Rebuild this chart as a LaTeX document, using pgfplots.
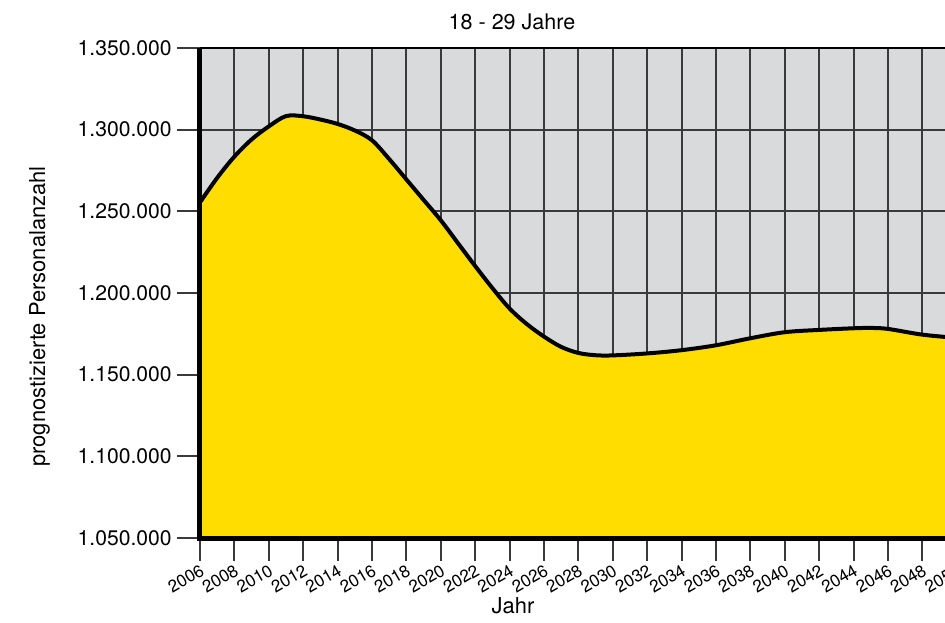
\documentclass[border=0pt]{standalone}
\usepackage{fontspec}
\setmainfont{TeX Gyre Heros}
\usepackage{pgfplots}
\pgfplotsset{compat=1.18}
\definecolor{bg}{HTML}{D9DADC}
\definecolor{fillyel}{HTML}{FFDD00}
\definecolor{gridc}{HTML}{3A3A3A}
\pgfplotstableread{
x y
2006 1255500
2007 1270500
2008 1283500
2009 1294000
2010 1302000
2011 1308300
2012 1308200
2013 1306200
2014 1303500
2015 1299500
2016 1293500
2017 1282000
2018 1269500
2019 1257000
2020 1244500
2021 1230500
2022 1216500
2023 1203000
2024 1190500
2025 1181000
2026 1173300
2027 1167000
2028 1163300
2029 1161900
2030 1161800
2032 1163000
2034 1165000
2036 1168000
2038 1172300
2040 1176000
2042 1177400
2044 1178400
2045 1178600
2046 1178000
2048 1174500
2050 1172500
}\data
\begin{document}
\begin{tikzpicture}
\begin{axis}[name=ax, scale only axis, width=378.4bp, height=245bp,
  xmin=2006, xmax=2050, ymin=1050000, ymax=1350000,
  clip=false, scaled y ticks=false,
  axis background/.style={fill=bg},
  axis line style={draw=none},
  xtick={2006,2008,...,2050},
  xticklabels={2006,2008,2010,2012,2014,2016,2018,2020,2022,2024,2026,2028,2030,2032,2034,2036,2038,2040,2042,2044,2046,2048,2050},
  ytick={1050000,1100000,1150000,1200000,1250000,1300000,1350000},
  yticklabels={1.050.000,1.100.000,1.150.000,1.200.000,1.250.000,1.300.000,1.350.000},
  xtick pos=left, ytick pos=left,
  grid=major, major grid style={gridc, line width=1bp},
  tick align=outside, major tick length=11.5bp,
  every tick/.style={gridc, line width=1bp},
  x tick label style={font=\fontsize{8.6}{10}\selectfont, rotate=30, anchor=north east, inner sep=0.8bp},
  y tick label style={font=\fontsize{10.6}{12}\selectfont, inner sep=2.5bp},
]
\addplot[fill=fillyel, draw=none, smooth, tension=0.55] table {\data} \closedcycle;
\addplot[black, line width=2bp, smooth, tension=0.55] table {\data};
\draw[black, line width=1.4bp] (rel axis cs:0,1) -- (rel axis cs:1,1);
\draw[black, line width=2.5bp] (rel axis cs:0,1) -- (rel axis cs:0,0) -- (rel axis cs:1,0);
\end{axis}
\node[font=\fontsize{10.8}{12}\selectfont] at ([xshift=156bp,yshift=258bp]ax.south west) {18 - 29 Jahre};
\node[font=\fontsize{11}{12}\selectfont] at ([xshift=156.5bp,yshift=-34bp]ax.south west) {Jahr};
\node[font=\fontsize{11}{12}\selectfont, rotate=90] at ([xshift=-80.25bp,yshift=110.75bp]ax.south west) {prognostizierte Personalanzahl};
\pgfresetboundingbox
\useasboundingbox ([xshift=-100bp,yshift=-42.5bp]ax.south west) rectangle ([xshift=-5.9bp,yshift=24bp]ax.north east);
\end{tikzpicture}
\end{document}
